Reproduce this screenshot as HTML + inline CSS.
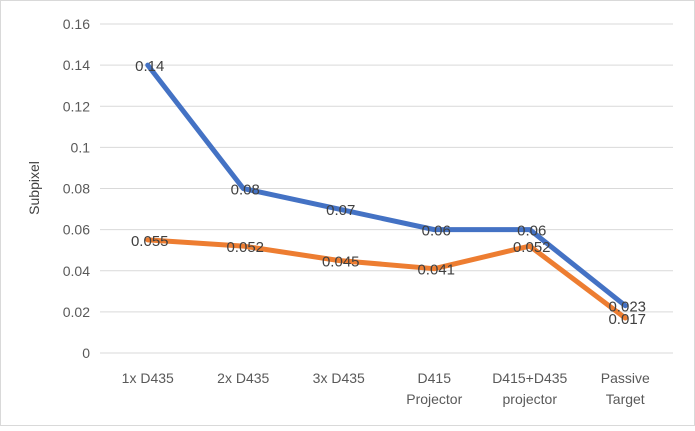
<!DOCTYPE html>
<html><head><meta charset="utf-8"><style>
body{margin:0;background:#fff;font-family:"Liberation Sans",sans-serif}
svg text{font-family:"Liberation Sans",sans-serif}
</style></head><body>
<svg id="chart" width="695" height="426" xmlns="http://www.w3.org/2000/svg">
<rect x="0.5" y="0.5" width="694" height="425" fill="#fff" stroke="#d9d9d9"/>
<g id="grid"></g><g id="yticks"></g><g id="xticks"></g><g id="series"></g><g id="labels"></g>
<text transform="translate(39,188) rotate(-90)" text-anchor="middle" font-size="14" fill="#404040">Subpixel</text>
</svg>
<script>
const categories=[["1x D435"],["2x D435"],["3x D435"],["D415","Projector"],["D415+D435","projector"],["Passive","Target"]];
const seriesBlue=[0.14,0.08,0.07,0.06,0.06,0.023];
const seriesOrange=[0.055,0.052,0.045,0.041,0.052,0.017];
const blueLabels=["0.14","0.08","0.07","0.06","0.06","0.023"];
const orangeLabels=["0.055","0.052","0.045","0.041","0.052","0.017"];
const yTicks=[0,0.02,0.04,0.06,0.08,0.1,0.12,0.14,0.16];
const yTickLabels=["0","0.02","0.04","0.06","0.08","0.1","0.12","0.14","0.16"];
const NS="http://www.w3.org/2000/svg";
const L=100,R=673,T=24,B=353,yMax=0.16;
const y=v=>B-(v/yMax)*(B-T);
const x=i=>L+(R-L)/categories.length*(i+0.5);
function mk(tag,attrs,parent,txt){const e=document.createElementNS(NS,tag);for(const k in attrs)e.setAttribute(k,attrs[k]);if(txt!==undefined)e.textContent=txt;document.getElementById(parent).appendChild(e);return e;}
yTicks.forEach((v,i)=>{
 const g=mk("line",{x1:L,x2:R,y1:y(v),y2:y(v),stroke:"#d9d9d9","stroke-width":1},"grid");
 
 
 const t=mk("text",{x:90,y:y(v)+5,"text-anchor":"end","font-size":14,fill:"#595959"},"yticks",yTickLabels[i]);
 
 
});
categories.forEach((c,i)=>{
 c.forEach((ln,j)=>{
  const t=mk("text",{x:x(i),y:383+j*21,"text-anchor":"middle","font-size":14,fill:"#595959"},"xticks",ln);
  
  
 });
});
function drawSeries(vals,labels,color,name){
 const p=mk("polyline",{points:vals.map((v,i)=>x(i)+","+y(v)).join(" "),fill:"none",stroke:color,"stroke-width":5,"stroke-linejoin":"round","stroke-linecap":"round"},"series");
 
 
 vals.forEach((v,i)=>{
  const t=mk("text",{x:x(i)+2,y:y(v)+6,"text-anchor":"middle","font-size":15,fill:"#404040"},"labels",labels[i]);
  
  
 });
}
drawSeries(seriesBlue,blueLabels,"#4472C4","blue-series");
drawSeries(seriesOrange,orangeLabels,"#ED7D31","orange-series");
</script>
</body></html>
